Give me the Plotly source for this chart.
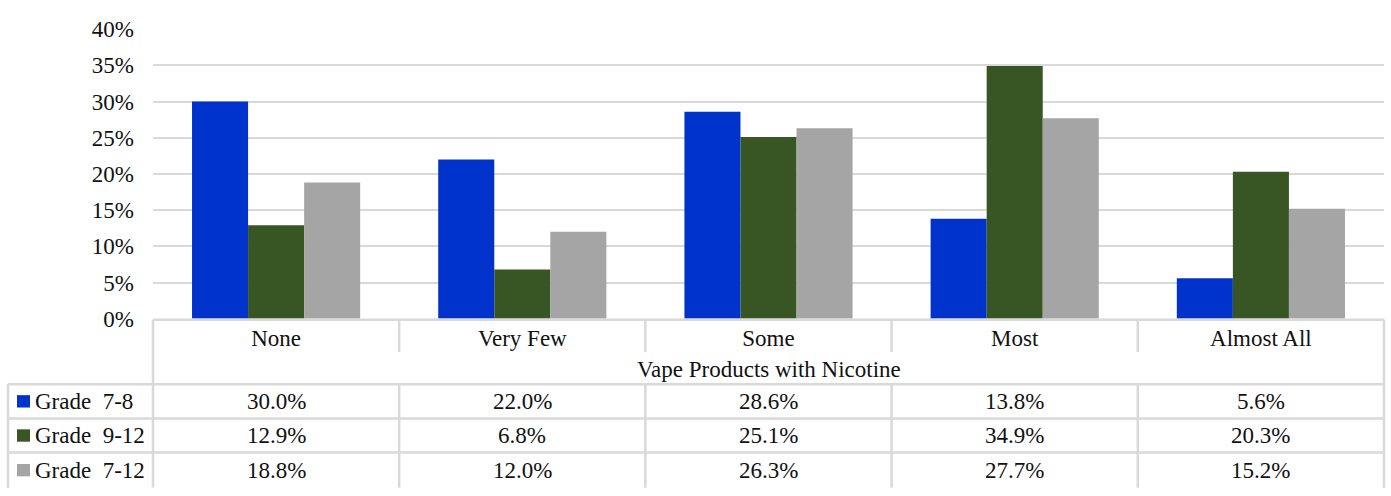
import plotly.graph_objects as go

# Survey data: share of students by perceived nicotine content of vape products
categories = ["None", "Very Few", "Some", "Most", "Almost All"]
series_names = ["Grade  7-8", "Grade  9-12", "Grade  7-12"]
grade_7_8 = [30.0, 22.0, 28.6, 13.8, 5.6]
grade_9_12 = [12.9, 6.8, 25.1, 34.9, 20.3]
grade_7_12 = [18.8, 12.0, 26.3, 27.7, 15.2]
y_ticks = [0, 5, 10, 15, 20, 25, 30, 35, 40]
y_tick_labels = [f"{t}%" for t in y_ticks]
x_title = "Vape Products with Nicotine"

series_values = [grade_7_8, grade_9_12, grade_7_12]
colors = ["#0033CC", "#375623", "#A5A5A5"]

W, H = 1391, 496
FONT = "Liberation Serif, serif"
FS = 23
TEXT = "#111111"
LINE = "#D9D9D9"


def fx(p):
    return p / W


def fy(p):
    return 1 - p / H


# plot area and data-table layout (pixels)
plot_left, plot_right, plot_top, plot_bottom = 153, 1384, 18, 323
header_sep_bottom = 358
row_tops = [392, 428, 464, 501]
table_left = 8

fig = go.Figure()
for name, vals, col in zip(series_names, series_values, colors):
    fig.add_trace(go.Bar(x=categories, y=vals, name=name, marker_color=col,
                         marker_line_width=0))

x0d, x1d = fx(plot_left), fx(plot_right)
n = len(categories)
bounds = [x0d + k * (x1d - x0d) / n for k in range(n + 1)]

line = dict(color=LINE, width=2.5)
shapes = []
# top border of the table (axis line)
shapes.append(dict(type="line", xref="paper", yref="paper", x0=x0d, x1=x1d,
                   y0=fy(plot_bottom + 1), y1=fy(plot_bottom + 1), line=line))
# outer verticals
for b in (bounds[0], bounds[-1]):
    shapes.append(dict(type="line", xref="paper", yref="paper", x0=b, x1=b,
                       y0=fy(plot_bottom + 1), y1=fy(H + 5), line=line))
# inner verticals: category header part and data rows
for b in bounds[1:-1]:
    shapes.append(dict(type="line", xref="paper", yref="paper", x0=b, x1=b,
                       y0=fy(plot_bottom + 1), y1=fy(header_sep_bottom), line=line))
    shapes.append(dict(type="line", xref="paper", yref="paper", x0=b, x1=b,
                       y0=fy(row_tops[0]), y1=fy(H + 5), line=line))
# row separators (the last one falls below the visible page)
for r in row_tops[:-1]:
    shapes.append(dict(type="line", xref="paper", yref="paper", x0=fx(table_left), x1=x1d,
                       y0=fy(r), y1=fy(r), line=line))
shapes.append(dict(type="line", xref="paper", yref="paper", x0=fx(table_left), x1=fx(table_left),
                   y0=fy(row_tops[0]), y1=fy(H + 5), line=line))

font = dict(family=FONT, size=FS, color=TEXT)
annotations = []
annotations.append(dict(text=x_title, xref="paper", yref="paper",
                        x=(x0d + x1d) / 2, y=fy(376), showarrow=False,
                        xanchor="center", yanchor="middle", font=font))
for i, (name, vals, col) in enumerate(zip(series_names, series_values, colors)):
    cy = (row_tops[i] + row_tops[i + 1]) / 2
    # legend key
    shapes.append(dict(type="rect", xref="paper", yref="paper",
                       x0=fx(17), x1=fx(30), y0=fy(cy - 6.5), y1=fy(cy + 6.5),
                       fillcolor=col, line=dict(width=0)))
    annotations.append(dict(text=name.replace(" ", "\u00a0"), xref="paper", yref="paper",
                            x=fx(33), y=fy(cy), showarrow=False, xanchor="left",
                            yanchor="middle", font=font))
    for cat, v in zip(categories, vals):
        annotations.append(dict(text=f"{v:.1f}%", xref="x", yref="paper",
                                x=cat, y=fy(cy), showarrow=False, xanchor="center",
                                yanchor="middle", font=font))

fig.update_layout(
    width=W, height=H,
    margin=dict(l=0, r=0, t=0, b=0),
    paper_bgcolor="white", plot_bgcolor="white",
    barmode="group", bargap=0.317, bargroupgap=0,
    showlegend=False,
    font=font,
    xaxis=dict(domain=[x0d, x1d], type="category", range=[-0.5, n - 0.5],
               showline=False, showgrid=False, ticks="", ticklabelstandoff=3,
               tickfont=font),
    yaxis=dict(domain=[fy(plot_bottom), fy(plot_top)], range=[0, 40],
               tickmode="array", tickvals=y_ticks, ticktext=y_tick_labels,
               showgrid=True, gridcolor=LINE, gridwidth=1.5, zeroline=False,
               showline=False, ticks="", ticklabelstandoff=18, tickfont=font),
    shapes=shapes, annotations=annotations,
)

fig.write_html("out.html")
